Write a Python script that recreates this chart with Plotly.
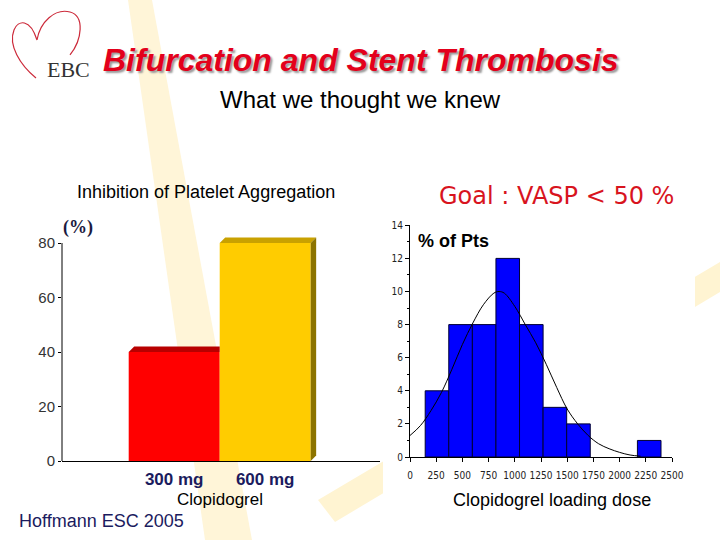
import plotly.graph_objects as go

W, H = 720, 540

# ---------------- data ----------------
dose_labels = ["300 mg", "600 mg"]
ipa_values = [40, 80]
ipa_colors_front = ["#ff0000", "#ffcc00"]
ipa_colors_top = ["#b80000", "#c9a100"]
ipa_colors_side = ["#8a0000", "#8c7300"]
left_yticks = [0, 20, 40, 60, 80]

hist_bin_centers = [257.5, 482.5, 707.5, 932.5, 1157.5, 1382.5, 1607.5, 2282.5]
hist_pct = [4, 8, 8, 12, 8, 3, 2, 1]
hist_bin_width = 225

curve_x = [0, 100, 200, 300, 400, 500, 600, 700, 800, 850, 900, 1000, 1100,
           1200, 1300, 1400, 1500, 1600, 1700, 1800, 1900, 2000, 2100, 2200]
curve_y = [1.3, 1.9, 2.8, 3.9, 5.3, 6.8, 8.1, 9.2, 9.9, 10.0, 9.9, 9.1, 8.0,
           6.9, 5.6, 4.2, 2.9, 2.0, 1.3, 0.8, 0.5, 0.28, 0.12, 0.05]

# ---------------- helpers ----------------
def px(x):
    return x / W

def py(y):
    return 1 - y / H

SANS = "Liberation Sans, Arial, sans-serif"
NARROW = "DejaVu Sans Condensed, Liberation Sans Narrow, Liberation Sans, sans-serif"
NAVY = "#1b1b5e"

fig = go.Figure()

# ---------------- left: 3D bars ----------------
bar_pos = list(range(1, len(ipa_values) + 1))
DX, DY = 0.06, 2.0

fig.add_trace(go.Bar(
    x=bar_pos, y=ipa_values, width=1,
    marker=dict(color=ipa_colors_front, line=dict(width=0)),
    xaxis="x", yaxis="y", hoverinfo="skip", showlegend=False))

n = len(ipa_values)
for i, (xc, v) in enumerate(zip(bar_pos, ipa_values)):
    x0, x1 = xc - 0.5, xc + 0.5
    covered = i + 1 < n and ipa_values[i + 1] >= v + DY
    xr = x1 if covered else x1 + DX
    fig.add_trace(go.Scatter(
        x=[x0, x0 + DX, xr, x1, x0], y=[v, v + DY, v + DY, v, v],
        mode="lines", line=dict(width=0), fill="toself",
        fillcolor=ipa_colors_top[i], xaxis="x", yaxis="y",
        hoverinfo="skip", showlegend=False))
    if not covered:
        fig.add_trace(go.Scatter(
            x=[x1, x1 + DX, x1 + DX, x1, x1], y=[0, DY, v + DY, v, 0],
            mode="lines", line=dict(width=0), fill="toself",
            fillcolor=ipa_colors_side[i], xaxis="x", yaxis="y",
            hoverinfo="skip", showlegend=False))

# ---------------- right: histogram ----------------
fig.add_trace(go.Bar(
    x=hist_bin_centers, y=hist_pct, width=hist_bin_width,
    marker=dict(color="#0000ff", line=dict(color="#000033", width=1)),
    xaxis="x2", yaxis="y2", hoverinfo="skip", showlegend=False))
fig.add_trace(go.Scatter(
    x=curve_x, y=curve_y, mode="lines",
    line=dict(color="black", width=1, shape="spline"),
    xaxis="x2", yaxis="y2", hoverinfo="skip", showlegend=False))

# ---------------- axes ----------------
unit_px = 91.0
c1_px = 174.2
left_x0, left_x1 = 62, 380
xr0 = 1 - (c1_px - left_x0) / unit_px
xr1 = 1 + (left_x1 - c1_px) / unit_px

fig.update_layout(
    width=W, height=H,
    margin=dict(l=0, r=0, t=0, b=0),
    paper_bgcolor="white", plot_bgcolor="rgba(0,0,0,0)",
    barmode="overlay", showlegend=False,
    xaxis=dict(domain=[px(left_x0), px(left_x1)], range=[xr0, xr1],
               showline=True, linecolor="black", linewidth=1,
               ticks="", tickvals=bar_pos, ticktext=dose_labels,
               tickfont=dict(family=SANS, size=17, color=NAVY, weight="bold"),
               ticklabelstandoff=3, tickangle=0,
               showgrid=False, zeroline=False, automargin=False, anchor="y"),
    yaxis=dict(domain=[py(461), py(236.2)], range=[0, 82.5],
               tickvals=left_yticks, ticks="outside", ticklen=3,
               tickcolor="black", tickfont=dict(family=SANS, size=15, color="#333333"),
               showline=False, showgrid=False, zeroline=False,
               automargin=False, anchor="x"),
    xaxis2=dict(domain=[px(410), px(672)], range=[0, 2500],
                showline=True, linecolor="black", linewidth=1,
                ticks="outside", ticklen=4, tickcolor="black",
                tick0=0, dtick=250, tickangle=0, ticklabelstandoff=5,
                tickfont=dict(family=NARROW, size=10, color="#222222"),
                showgrid=False, zeroline=False, automargin=False, anchor="y2"),
    yaxis2=dict(domain=[py(457), py(225.3)], range=[0, 14],
                showline=True, linecolor="black", linewidth=1,
                ticks="outside", ticklen=4, tickcolor="black",
                tick0=0, dtick=2,
                minor=dict(dtick=1, ticks="outside", ticklen=2, tickcolor="black"),
                tickfont=dict(family=NARROW, size=10, color="#222222"),
                showgrid=False, zeroline=False, automargin=False, anchor="x2"),
)

# ---------------- decorations ----------------
def poly(points):
    d = "M " + " L ".join(f"{px(x):.5f},{py(y):.5f}" for x, y in points) + " Z"
    return d

shapes = [
    dict(type="path", xref="paper", yref="paper", layer="below",
         path=poly([(128, 0), (152, 0), (252, 540), (205, 540)]),
         fillcolor="#fff5d8", line=dict(width=0)),
    dict(type="path", xref="paper", yref="paper", layer="below",
         path=poly([(318, 500), (720, 262), (720, 292), (335, 522)]),
         fillcolor="#fff4d2", line=dict(width=0)),
    dict(type="rect", xref="paper", yref="paper", layer="below",
         x0=px(383), x1=px(695), y0=py(515), y1=py(212),
         fillcolor="white", line=dict(width=0)),
    dict(type="line", xref="x domain", yref="y", x0=0, x1=0, y0=0, y1=80,
         line=dict(color="black", width=1)),
]

heart = [(36, 78), (20, 65), (8, 45), (14, 30), (18, 20), (30, 18), (37, 40),
         (40, 22), (55, 8), (70, 12), (85, 16), (82, 40), (70, 55),
         (62, 65), (50, 72), (44, 76)]
hp = "M {} C {} {} {} C {} {} {} C {} {} {} C {} {} {}".format(
    *[f"{px(x):.5f},{py(y):.5f}" for x, y in heart])
shapes.append(dict(type="path", xref="paper", yref="paper", path=hp,
                   line=dict(color="#cc2a3a", width=1.2)))
fig.update_layout(shapes=shapes)

def ann(text, x, y, size, color="black", family=SANS, weight="normal",
        style="normal", xanchor="center", shadow=None):
    f = dict(family=family, size=size, color=color, weight=weight, style=style)
    if shadow:
        f["shadow"] = shadow
    fig.add_annotation(text=text, x=px(x), y=py(y), xref="paper", yref="paper",
                       showarrow=False, xanchor=xanchor, yanchor="middle", font=f)

ann("Bifurcation and Stent Thrombosis", 361, 60, 32, color="#e3001b",
    weight="bold", style="italic", shadow="2px 2px 2px #9a9a9a")
ann("What we thought we knew", 360, 100, 24)
ann("EBC", 68, 69, 22, color="#333333", family="Liberation Serif, serif")
ann("Inhibition of Platelet Aggregation", 206, 192, 18)
ann("(%)", 78, 227, 18, color="#1a1a40", family="Liberation Serif, serif", weight="bold")
ann("Clopidogrel", 220, 499, 17)
ann("Hoffmann ESC 2005", 101, 521, 18, color=NAVY)
ann("Goal : VASP < 50 %", 556, 196, 24, color="#d8141e", family="DejaVu Sans, sans-serif")
ann("% of Pts", 416, 241, 18, weight="bold", xanchor="left")
ann("Clopidogrel loading dose", 552, 500, 18)

fig.write_html("out.html", config={"displayModeBar": False},
               post_script="document.body.style.margin='0';")
